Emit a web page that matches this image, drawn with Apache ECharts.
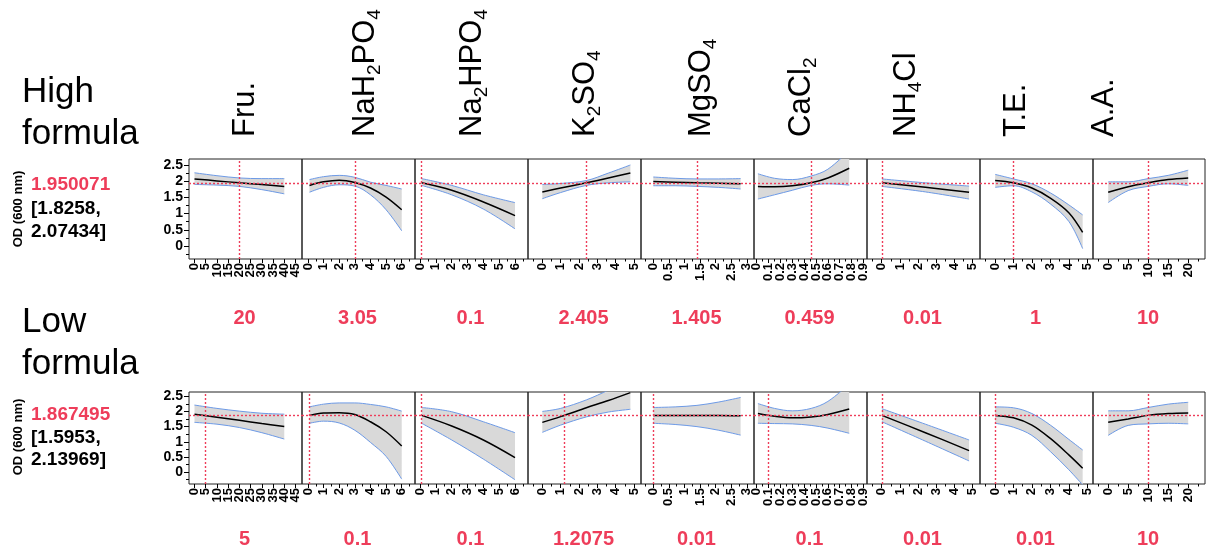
<!DOCTYPE html>
<html>
<head>
<meta charset="utf-8">
<title>Prediction profiler - High / Low formula</title>
<script src="https://cdn.jsdelivr.net/npm/echarts@6/dist/echarts.min.js"></script>
<style>
html, body { margin: 0; padding: 0; background: #fff; }
#chart { width: 1207px; height: 554px; }
</style>
</head>
<body>
<div id="chart"></div>
<script>
// factor settings for the two formulas
const highSettings = ['20', '3.05', '0.1', '2.405', '1.405', '0.459', '0.01', '1', '10']
const lowSettings = ['5', '0.1', '0.1', '1.2075', '0.01', '0.1', '0.01', '0.01', '10']
const predictions = [1.950071, 1.867495]
const predictionTexts = [['1.950071', '[1.8258,', '2.07434]'], ['1.867495', '[1.5953,', '2.13969]']]

// Fru.
const fruX = [0, 10, 20, 30, 40]
const fruHighMean = [2.07, 2.01, 1.95, 1.9, 1.84]
const fruHighLower = [1.9, 1.88, 1.84, 1.74, 1.61]
const fruHighUpper = [2.26, 2.17, 2.1, 2.08, 2.08]
const fruLowMean = [1.91, 1.81, 1.71, 1.6, 1.5]
const fruLowLower = [1.64, 1.58, 1.47, 1.3, 1.09]
const fruLowUpper = [2.21, 2.1, 2.01, 1.94, 1.91]

// NaH2PO4
const nah2X = [0.1, 1, 2, 3, 4, 5, 6]
const nah2HighMean = [1.87, 1.98, 2.03, 1.96, 1.79, 1.51, 1.12]
const nah2HighLower = [1.66, 1.81, 1.89, 1.85, 1.58, 1.12, 0.47]
const nah2HighUpper = [2.05, 2.14, 2.18, 2.12, 1.97, 1.87, 1.76]
const nah2LowMean = [1.87, 1.95, 1.96, 1.9, 1.66, 1.33, 0.86]
const nah2LowLower = [1.61, 1.68, 1.62, 1.38, 0.98, 0.52, -0.23]
const nah2LowUpper = [2.15, 2.24, 2.28, 2.28, 2.23, 2.15, 2.01]

// Na2HPO4
const na2hX = [0.1, 2, 4, 6]
const na2hHighMean = [1.95, 1.72, 1.36, 0.94]
const na2hHighLower = [1.87, 1.58, 1.14, 0.53]
const na2hHighUpper = [2.08, 1.87, 1.58, 1.34]
const na2hLowMean = [1.87, 1.52, 1.06, 0.48]
const na2hLowLower = [1.61, 1.06, 0.43, -0.25]
const na2hLowUpper = [2.13, 1.99, 1.66, 1.3]

// K2SO4
const k2X = [0, 1, 2.4, 3.6, 4.8]
const k2HighMean = [1.67, 1.79, 1.95, 2.1, 2.25]
const k2HighLower = [1.46, 1.65, 1.87, 1.95, 1.98]
const k2HighUpper = [1.9, 1.93, 2.02, 2.25, 2.5]
const k2LowMean = [1.64, 1.83, 2.12, 2.36, 2.62]
const k2LowLower = [1.31, 1.55, 1.82, 1.98, 2.07]
const k2LowUpper = [2.0, 2.1, 2.38, 2.7, 3.05]

// MgSO4
const mgX = [0, 0.7, 1.4, 2.1, 2.8]
const mgHighMean = [1.99, 1.97, 1.95, 1.94, 1.92]
const mgHighLower = [1.86, 1.86, 1.84, 1.81, 1.76]
const mgHighUpper = [2.13, 2.09, 2.07, 2.07, 2.08]
const mgLowMean = [1.87, 1.87, 1.87, 1.87, 1.86]
const mgLowLower = [1.61, 1.57, 1.5, 1.38, 1.22]
const mgLowUpper = [2.13, 2.15, 2.2, 2.31, 2.46]

// CaCl2
const caX = [0.01, 0.15, 0.3, 0.459, 0.6, 0.78]
const caHighMean = [1.84, 1.83, 1.86, 1.95, 2.1, 2.4]
const caHighLower = [1.45, 1.58, 1.72, 1.87, 1.92, 1.88]
const caHighUpper = [2.23, 2.09, 2.05, 2.16, 2.37, 2.95]
const caLowMean = [1.93, 1.84, 1.79, 1.82, 1.9, 2.08]
const caLowLower = [1.61, 1.6, 1.59, 1.54, 1.45, 1.28]
const caLowUpper = [2.26, 2.1, 2.02, 2.1, 2.33, 2.9]

// NH4Cl
const nhX = [0.01, 2.4, 4.8]
const nhHighMean = [1.95, 1.81, 1.66]
const nhHighLower = [1.84, 1.67, 1.45]
const nhHighUpper = [2.07, 1.95, 1.85]
const nhLowMean = [1.87, 1.3, 0.71]
const nhLowLower = [1.66, 1.02, 0.37]
const nhLowUpper = [2.09, 1.58, 1.06]

// T.E.
const teX = [0.01, 1, 2, 3, 4, 4.75]
const teHighMean = [2.02, 1.95, 1.79, 1.48, 1.03, 0.42]
const teHighLower = [1.81, 1.86, 1.67, 1.3, 0.76, -0.08]
const teHighUpper = [2.21, 2.07, 1.92, 1.64, 1.27, 0.96]
const teLowMean = [1.87, 1.79, 1.55, 1.11, 0.57, 0.13]
const teLowLower = [1.61, 1.48, 1.21, 0.68, 0.08, -0.42]
const teLowUpper = [2.15, 2.12, 1.93, 1.55, 1.08, 0.73]

// A.A.
const aaX = [0, 5, 10, 15, 20]
const aaHighMean = [1.66, 1.83, 1.95, 2.05, 2.1]
const aaHighLower = [1.34, 1.71, 1.84, 1.92, 1.87]
const aaHighUpper = [1.98, 1.98, 2.08, 2.18, 2.34]
const aaLowMean = [1.64, 1.75, 1.87, 1.93, 1.95]
const aaLowLower = [1.21, 1.54, 1.59, 1.61, 1.59]
const aaLowUpper = [2.02, 2.02, 2.13, 2.24, 2.3]

// tick labels
const yTicks = [0, 0.5, 1, 1.5, 2, 2.5]
const yMinorTicks = [-0.25, 0.25, 0.75, 1.25, 1.75, 2.25]
const fruTicks = [0, 5, 10, 15, 20, 25, 30, 35, 40, 45]
const fruMinor = []
const nah2Ticks = [0, 1, 2, 3, 4, 5, 6]
const nah2Minor = [0.5, 1.5, 2.5, 3.5, 4.5, 5.5, 6.5]
const na2hTicks = [0, 1, 2, 3, 4, 5, 6]
const na2hMinor = [0.5, 1.5, 2.5, 3.5, 4.5, 5.5, 6.5]
const k2Ticks = [0, 1, 2, 3, 4, 5]
const k2Minor = [-0.5, 0.5, 1.5, 2.5, 3.5, 4.5]
const mgTicks = [0, 0.5, 1, 1.5, 2, 2.5, 3]
const mgMinor = [-0.25, 0.25, 0.75, 1.25, 1.75, 2.25, 2.75]
const caTicks = [0, 0.1, 0.2, 0.3, 0.4, 0.5, 0.6, 0.7, 0.8, 0.9]
const caMinor = [0.05, 0.15, 0.25, 0.35, 0.45, 0.55, 0.65, 0.75, 0.85]
const nhTicks = [0, 1, 2, 3, 4, 5]
const nhMinor = [-0.5, 0.5, 1.5, 2.5, 3.5, 4.5]
const teTicks = [0, 1, 2, 3, 4, 5]
const teMinor = [-0.5, 0.5, 1.5, 2.5, 3.5, 4.5]
const aaTicks = [0, 5, 10, 15, 20]
const aaMinor = [-2.5, 2.5, 7.5, 12.5, 17.5, 22.5]

// column headers (rich text for subscripts)
const headerTexts = [
  '{m|Fru.}',
  '{m|NaH}{s|2}{m|PO}{s|4}',
  '{m|Na}{s|2}{m|HPO}{s|4}',
  '{m|K}{s|2}{m|SO}{s|4}',
  '{m|MgSO}{s|4}',
  '{m|CaCl}{s|2}',
  '{m|NH}{s|4}{m|Cl}',
  '{m|T.E.}',
  '{m|A.A.}',
]

const factors = [
  { x: fruX, rows: [[fruHighMean, fruHighLower, fruHighUpper], [fruLowMean, fruLowLower, fruLowUpper]], ticks: fruTicks, minor: fruMinor, range: [-2.45, 47.9] },
  { x: nah2X, rows: [[nah2HighMean, nah2HighLower, nah2HighUpper], [nah2LowMean, nah2LowLower, nah2LowUpper]], ticks: nah2Ticks, minor: nah2Minor, range: [-0.38, 6.85] },
  { x: na2hX, rows: [[na2hHighMean, na2hHighLower, na2hHighUpper], [na2hLowMean, na2hLowLower, na2hLowUpper]], ticks: na2hTicks, minor: na2hMinor, range: [-0.32, 6.82] },
  { x: k2X, rows: [[k2HighMean, k2HighLower, k2HighUpper], [k2LowMean, k2LowLower, k2LowUpper]], ticks: k2Ticks, minor: k2Minor, range: [-0.78, 5.38] },
  { x: mgX, rows: [[mgHighMean, mgHighLower, mgHighUpper], [mgLowMean, mgLowLower, mgLowUpper]], ticks: mgTicks, minor: mgMinor, range: [-0.395, 3.23] },
  { x: caX, rows: [[caHighMean, caHighLower, caHighUpper], [caLowMean, caLowLower, caLowUpper]], ticks: caTicks, minor: caMinor, range: [-0.023, 0.93] },
  { x: nhX, rows: [[nhHighMean, nhHighLower, nhHighUpper], [nhLowMean, nhLowLower, nhLowUpper]], ticks: nhTicks, minor: nhMinor, range: [-0.81, 5.4] },
  { x: teX, rows: [[teHighMean, teHighLower, teHighUpper], [teLowMean, teLowLower, teLowUpper]], ticks: teTicks, minor: teMinor, range: [-0.81, 5.31] },
  { x: aaX, rows: [[aaHighMean, aaHighLower, aaHighUpper], [aaLowMean, aaLowLower, aaLowUpper]], ticks: aaTicks, minor: aaMinor, range: [-3.8, 24.2] },
]
const settings = [highSettings, lowSettings]

// layout
const colEdges = [189, 302, 415, 528, 641, 754, 867, 980, 1093, 1205]
const rowTops = [159, 392]
const rowBottoms = [259, 484]
const yRanges = [[-0.4, 2.685], [-0.39, 2.64]]
const headerX = [245, 365, 472, 585, 701, 801, 906, 1016, 1104]

const FONT = '"Liberation Sans", Arial, Helvetica, sans-serif'
const RED = '#ee3d5a'
const BLUE = '#6d9ae6'
const BAND = '#d9d9d9'

const chart = echarts.init(document.getElementById('chart'))

const grid = []
const xAxis = []
const yAxis = []
const series = []

// value first, x second: the stacked dimension must be the first one
const pts = (xs, ys) => xs.map((x, i) => [ys[i], x])
const enc = { x: 1, y: 0 }

const xLabelStyle = {
  show: true,
  rotate: 90,
  margin: 4,
  hideOverlap: false,
  color: '#000',
  fontFamily: FONT,
  fontWeight: 'bold',
  fontSize: 13,
}

function xAxisBase(gi, f) {
  return {
    type: 'value',
    gridIndex: gi,
    min: f.range[0],
    max: f.range[1],
    position: 'bottom',
    axisLine: { show: false, onZero: false },
    splitLine: { show: false },
  }
}

for (let r = 0; r < 2; r++) {
  for (let c = 0; c < factors.length; c++) {
    const f = factors[c]
    const gi = r * factors.length + c
    grid.push({
      left: colEdges[c],
      top: rowTops[r],
      width: colEdges[c + 1] - colEdges[c],
      height: rowBottoms[r] - rowTops[r],
      show: true,
      borderColor: '#222',
      borderWidth: 1,
      backgroundColor: 'transparent',
    })
    // labels are split over two axes (every other one) so that ECharts keeps them all
    const evenLabels = f.ticks.filter((v, i) => i % 2 === 0)
    const oddLabels = f.ticks.filter((v, i) => i % 2 === 1)
    xAxis.push(Object.assign(xAxisBase(gi, f), {
      axisTick: { show: true, customValues: f.ticks, length: 4, lineStyle: { color: '#000', width: 1 } },
      axisLabel: Object.assign({ customValues: evenLabels }, xLabelStyle),
    }))
    xAxis.push(Object.assign(xAxisBase(gi, f), {
      axisTick: { show: false },
      axisLabel: Object.assign({ customValues: oddLabels }, xLabelStyle, { show: oddLabels.length > 0 }),
    }))
    xAxis.push(Object.assign(xAxisBase(gi, f), {
      axisLabel: { show: false },
      axisTick: { show: f.minor.length > 0, customValues: f.minor, length: 2.5, lineStyle: { color: '#000', width: 1 } },
    }))
    const first = c === 0
    yAxis.push({
      type: 'value',
      gridIndex: gi,
      min: yRanges[r][0],
      max: yRanges[r][1],
      position: 'left',
      axisLine: { show: false, onZero: false },
      splitLine: { show: false },
      axisTick: { show: first, customValues: yTicks, length: 5, lineStyle: { color: '#000', width: 1 } },
      axisLabel: {
        show: first,
        customValues: yTicks,
        margin: 6,
        hideOverlap: false,
        color: '#000',
        fontFamily: FONT,
        fontWeight: 'bold',
        fontSize: 14,
      },
    })
    yAxis.push({
      type: 'value',
      gridIndex: gi,
      min: yRanges[r][0],
      max: yRanges[r][1],
      position: 'left',
      axisLine: { show: false, onZero: false },
      splitLine: { show: false },
      axisLabel: { show: false },
      axisTick: { show: first, customValues: yMinorTicks, length: 3, lineStyle: { color: '#000', width: 1 } },
    })

    const [mean, lower, upper] = f.rows[r]
    const xi = 3 * gi
    const yi = 2 * gi
    const stackKey = 'band' + gi
    series.push({
      type: 'line',
      xAxisIndex: xi,
      yAxisIndex: yi,
      data: pts(f.x, lower),
      encode: enc,
      stack: stackKey,
      stackStrategy: 'all',
      smooth: 0.35,
      symbol: 'none',
      lineStyle: { color: BLUE, width: 1 },
      z: 3,
      silent: true,
    })
    series.push({
      type: 'line',
      xAxisIndex: xi,
      yAxisIndex: yi,
      data: pts(f.x, upper.map((u, i) => u - lower[i])),
      encode: enc,
      stack: stackKey,
      stackStrategy: 'all',
      smooth: 0.35,
      symbol: 'none',
      lineStyle: { width: 0, opacity: 0 },
      areaStyle: { color: BAND, opacity: 1 },
      z: 2,
      silent: true,
    })
    series.push({
      type: 'line',
      xAxisIndex: xi,
      yAxisIndex: yi,
      data: pts(f.x, upper),
      encode: enc,
      smooth: 0.35,
      symbol: 'none',
      lineStyle: { color: BLUE, width: 1 },
      z: 3,
      silent: true,
    })
    series.push({
      type: 'line',
      xAxisIndex: xi,
      yAxisIndex: yi,
      data: pts(f.x, mean),
      encode: enc,
      smooth: 0.35,
      symbol: 'none',
      lineStyle: { color: '#000', width: 1.5 },
      z: 4,
      silent: true,
      markLine: {
        silent: true,
        symbol: ['none', 'none'],
        label: { show: false },
        lineStyle: { color: RED, type: [2, 2], width: 1.4 },
        data: [{ xAxis: parseFloat(settings[r][c]) }, { yAxis: predictions[r] }],
      },
    })
  }
}

// texts
const graphic = []
const headerRich = {
  m: { fontSize: 31, fontFamily: FONT, lineHeight: 38, fill: '#000' },
  s: { fontSize: 19, fontFamily: FONT, lineHeight: 19, verticalAlign: 'bottom', fill: '#000' },
}
headerTexts.forEach((t, i) => {
  graphic.push({
    type: 'text',
    x: headerX[i],
    y: 137,
    rotation: Math.PI / 2,
    style: {
      text: t,
      rich: headerRich,
      font: '31px ' + FONT,
      fill: '#000',
      align: 'left',
      verticalAlign: 'middle',
      textAlign: 'left',
      textVerticalAlign: 'middle',
    },
  })
})

const leftTitles = [['High', 'formula'], ['Low', 'formula']]
const leftTitleY = [[92, 134], [322, 364]]
const valueY = [[185, 209, 232], [415, 438, 460]]
const odY = [209, 437]
const settingY = [318, 539]

for (let r = 0; r < 2; r++) {
  leftTitles[r].forEach((t, k) => {
    graphic.push({
      type: 'text',
      x: 22,
      y: leftTitleY[r][k],
      style: { text: t, font: '35px ' + FONT, fill: '#000', align: 'left', verticalAlign: 'middle', textAlign: 'left', textVerticalAlign: 'middle' },
    })
  })
  predictionTexts[r].forEach((t, k) => {
    graphic.push({
      type: 'text',
      x: 31,
      y: valueY[r][k],
      style: {
        text: t,
        font: 'bold 19px ' + FONT,
        fill: k === 0 ? RED : '#000',
        align: 'left',
        verticalAlign: 'middle',
        textAlign: 'left',
        textVerticalAlign: 'middle',
      },
    })
  })
  graphic.push({
    type: 'text',
    x: 18,
    y: odY[r],
    rotation: Math.PI / 2,
    style: { text: 'OD (600 nm)', font: 'bold 13px ' + FONT, fill: '#000', align: 'center', verticalAlign: 'middle', textAlign: 'center', textVerticalAlign: 'middle' },
  })
  settings[r].forEach((t, c) => {
    graphic.push({
      type: 'text',
      x: (colEdges[c] + colEdges[c + 1]) / 2 - 1,
      y: settingY[r],
      style: { text: t, font: 'bold 20px ' + FONT, fill: RED, align: 'center', verticalAlign: 'middle', textAlign: 'center', textVerticalAlign: 'middle' },
    })
  })
}

chart.setOption({
  animation: false,
  backgroundColor: '#fff',
  grid: grid,
  xAxis: xAxis,
  yAxis: yAxis,
  series: series,
  graphic: graphic,
})

window.addEventListener('resize', () => chart.resize())
</script>
</body>
</html>
